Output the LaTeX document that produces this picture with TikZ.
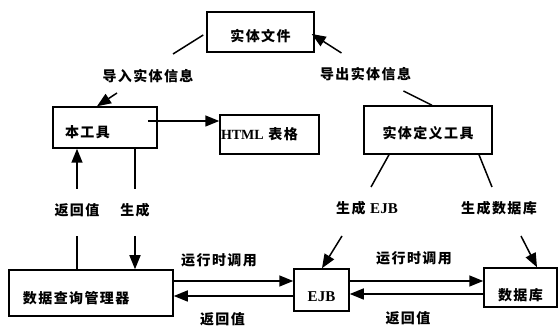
\documentclass[tikz,border=0pt]{standalone}
\usepackage{fontspec}
\setmainfont{Noto Sans CJK SC}[LetterSpace=10]
\newfontfamily\lat{Liberation Serif}
\usetikzlibrary{arrows.meta}
\begin{document}
\begin{tikzpicture}[x=1pt,y=-1pt,
  txt/.style={font=\bfseries\fontsize{14}{16}\selectfont},
  box/.style={txt, draw, line width=1.5pt, inner sep=0pt, text depth=2pt},
  lab/.style={txt, inner sep=0pt, text height=12pt, text depth=2pt},
  ln/.style={line width=1.5pt},
  arr/.style={ln, -{Triangle[length=14pt,width=11pt]}}]
\useasboundingbox (0,0) rectangle (558,328);
% boxes
\node[box, minimum width=107pt, minimum height=40pt, text height=22pt] (file) at (260.5,32) {实体文件};
\node[box, minimum height=41pt, inner xsep=12pt, text width=80pt, align=left, text height=23pt] (tool) at (105,127.5) {本工具};
\node[box, minimum height=39pt, inner xsep=1pt, text width=97pt, align=left, text height=12pt] (html) at (269.5,134.5) {{\lat HTML} 表格};
\node[box, minimum width=128pt, minimum height=48pt, text height=20pt] (def) at (428,130) {实体定义工具};
\node[box, minimum height=46pt, inner xsep=14pt, text width=136pt, align=left, text height=24pt] (mgr) at (91,293) {数据查询管理器};
\node[box, minimum width=55pt, minimum height=42pt, text height=26pt] (ejb) at (321.5,290) {\lat\fontsize{15}{17}\selectfont EJB};
\node[box, minimum width=73pt, minimum height=39pt, text height=28pt] (db) at (520.5,287.5) {数据库};
% labels
\node[lab] (lab1) at (148,77) {导入实体信息};
\node[lab] (lab2) at (365.5,75) {导出实体信息};
\node[lab] (lab3) at (77,211) {返回值};
\node[lab] (lab4) at (135,211) {生成};
\node[lab] (lab5) at (367,209) {生成 {\lat\fontsize{15}{17}\selectfont EJB}};
\node[lab] (lab6) at (499,209) {生成数据库};
\node[lab] (lab7) at (219,261) {运行时调用};
\node[lab] (lab8) at (414,259) {运行时调用};
\node[lab] (lab9) at (222.5,320) {返回值};
\node[lab] (lab10) at (408,319) {返回值};
% connectors
\draw[ln] ([shift={(-3,3)}]file.west) -- ([shift={(25,-23)}]lab1.center);
\draw[arr] ([shift={(-31,16)}]lab1.center) -- ([shift={(-8,0)}]tool.north);
\draw[ln] ([shift={(4,0)}]def.north) -- ([shift={(38,16)}]lab2.center);
\draw[arr] ([shift={(-24,-22)}]lab2.center) -- ([shift={(-3,2)}]file.east);
\draw[arr] ([shift={(-10,-6.5)}]tool.east) -- ([shift={(0,-13.5)}]html.west);
\draw[ln] ([shift={(-14,0)}]mgr.north) -- ([shift={(0,25)}]lab3.center);
\draw[arr] ([shift={(0,-22)}]lab3.center) -- ([shift={(-28,0)}]tool.south);
\draw[ln] ([shift={(30,0)}]tool.south) -- ([shift={(0,-22)}]lab4.center);
\draw[arr] ([shift={(0,25)}]lab4.center) -- ([shift={(44,0)}]mgr.north);
\draw[ln] ([shift={(-39,0)}]def.south) -- ([shift={(4,-22)}]lab5.center);
\draw[arr] ([shift={(-25,27)}]lab5.center) -- ([shift={(0.5,0)}]ejb.north);
\draw[ln] ([shift={(51,0)}]def.south) -- ([shift={(-7,-22)}]lab6.center);
\draw[arr] ([shift={(22,27)}]lab6.center) -- ([shift={(16.5,0)}]db.north);
\draw[arr] ([shift={(0,-12)}]mgr.east) -- ([shift={(0,-9)}]ejb.west);
\draw[arr] ([shift={(0,-9)}]ejb.east) -- ([shift={(0,-6.5)}]db.west);
\draw[arr] ([shift={(0,6)}]ejb.west) -- ([shift={(0,3)}]mgr.east);
\draw[arr] ([shift={(0,6.5)}]db.west) -- ([shift={(0,4)}]ejb.east);
\end{tikzpicture}
\end{document}
